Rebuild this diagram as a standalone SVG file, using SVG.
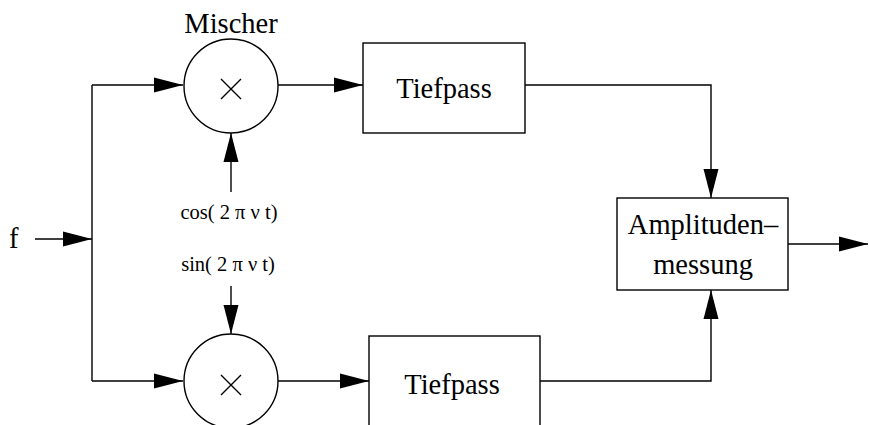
<svg xmlns="http://www.w3.org/2000/svg" width="869" height="425" viewBox="0 0 869 425">
  <style>
    .ln { fill: none; stroke: #000; stroke-width: 1.4; }
    .box { fill: #fff; stroke: #000; stroke-width: 1.4; }
    .t { font-family: "Liberation Serif", "Times New Roman", serif; fill: #000; }
    .big { font-size: 28.5px; }
    .small { font-size: 20.5px; }
  </style>
  <defs>
    <marker id="ah" markerWidth="29" markerHeight="16" refX="29" refY="8" orient="auto" markerUnits="userSpaceOnUse">
      <path d="M0,0.5 L29,8 L0,15.5 Z" fill="#000"/>
    </marker>
  </defs>

  <g id="connectors">
    <!-- input f and splitter -->
    <path class="ln" d="M35,239 H92" marker-end="url(#ah)"/>
    <path class="ln" d="M92,85 V381"/>
    <path class="ln" d="M92,85 H183" marker-end="url(#ah)"/>
    <path class="ln" d="M92,381 H183" marker-end="url(#ah)"/>
    <!-- carriers -->
    <path class="ln" d="M231,192 V133" marker-end="url(#ah)"/>
    <path class="ln" d="M231,286 V334" marker-end="url(#ah)"/>
    <!-- mixer to low-pass -->
    <path class="ln" d="M278,85 H363" marker-end="url(#ah)"/>
    <path class="ln" d="M278,381 H369" marker-end="url(#ah)"/>
    <!-- low-pass to amplitude measurement -->
    <path class="ln" d="M525,85 H711 V198" marker-end="url(#ah)"/>
    <path class="ln" d="M540,381 H711 V290" marker-end="url(#ah)"/>
    <!-- output -->
    <path class="ln" d="M788,244 H868" marker-end="url(#ah)"/>
  </g>

  <g id="input">
    <text class="t big" x="9" y="248">f</text>
  </g>

  <g id="mixer-top">
    <text class="t big" x="231" y="33" text-anchor="middle">Mischer</text>
    <circle class="box" cx="231" cy="86" r="47"/>
    <path class="ln" d="M221,79 L241,99 M241,79 L221,99"/>
  </g>

  <g id="mixer-bottom">
    <circle class="box" cx="231" cy="381" r="47"/>
    <path class="ln" d="M221,375 L241,395 M241,375 L221,395"/>
  </g>

  <g id="cos-label">
    <text class="t small" x="229" y="219" text-anchor="middle">cos( 2 π ν t)</text>
  </g>
  <g id="sin-label">
    <text class="t small" x="228" y="271" text-anchor="middle">sin( 2 π ν t)</text>
  </g>

  <g id="lowpass-top">
    <rect class="box" x="363" y="43" width="162" height="90"/>
    <text class="t big" x="444" y="98" text-anchor="middle">Tiefpass</text>
  </g>

  <g id="lowpass-bottom">
    <rect class="box" x="369" y="336" width="171" height="100"/>
    <text class="t big" x="452" y="394" text-anchor="middle">Tiefpass</text>
  </g>

  <g id="amplitude">
    <rect class="box" x="617" y="198" width="171" height="92"/>
    <text class="t big" x="703" y="234" text-anchor="middle">Amplituden–</text>
    <text class="t big" x="703" y="274" text-anchor="middle">messung</text>
  </g>
</svg>
